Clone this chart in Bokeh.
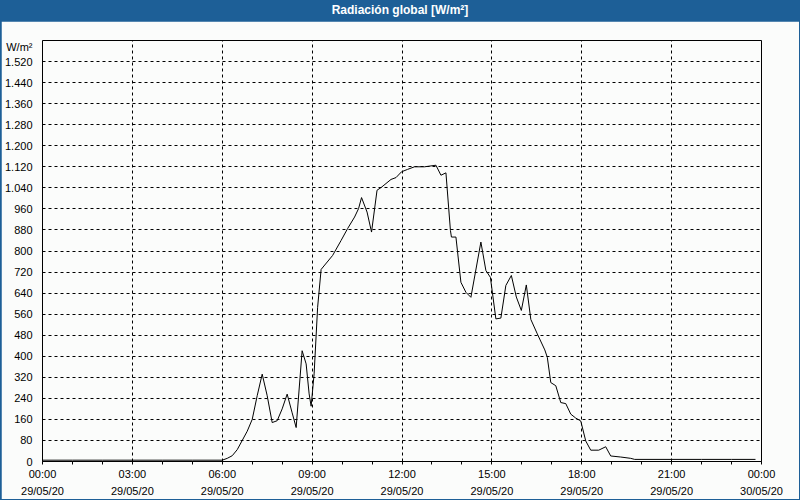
from bokeh.plotting import figure
from bokeh.models import Range1d, FixedTicker, Div
from bokeh.layouts import column
from bokeh.embed import file_html
from bokeh.resources import INLINE

TITLE = "Radiación global [W/m²]"
UNIT = "W/m²"

times = ["00:00", "01:00", "02:00", "03:00", "04:00", "05:00", "06:00", "06:10",
         "06:20", "06:30", "06:40", "06:50", "07:00", "07:10", "07:20", "07:30",
         "07:40", "07:50", "08:00", "08:10", "08:20", "08:28", "08:40", "08:48",
         "08:54", "08:58", "09:04", "09:11", "09:18", "09:41", "09:58", "10:11",
         "10:25", "10:33", "10:39", "10:50", "10:59", "11:10", "11:18", "11:38",
         "11:48", "11:59", "12:11", "12:25", "12:45", "13:08", "13:18", "13:28",
         "13:37", "13:39", "13:48", "13:58", "14:08", "14:18", "14:38", "14:48",
         "14:57", "15:08", "15:18", "15:28", "15:39", "15:49", "15:59", "16:09",
         "16:18", "16:31", "16:46", "16:51", "16:58", "17:08", "17:18", "17:28",
         "17:38", "17:48", "17:58", "18:08", "18:18", "18:34", "18:48", "18:58",
         "19:18", "19:38", "19:46", "21:00", "22:00", "23:00", "23:48"]
values = [5, 5, 5, 5, 5, 5, 5, 12,
          22, 45, 80, 115, 160, 250, 332, 250,
          148, 155, 200, 256, 185, 129, 421, 371,
          257, 210, 333, 586, 730, 783, 840, 885,
          929, 961, 1003, 948, 872, 1031, 1041, 1072,
          1079, 1101, 1110, 1120, 1120, 1126, 1088, 1097,
          878, 853, 853, 681, 643, 624, 834, 726,
          700, 542, 545, 669, 707, 625, 574, 671,
          540, 485, 424, 396, 300, 288, 224, 220,
          180, 165, 154, 78, 43, 43, 56, 21,
          17, 12, 8, 8, 8, 8, 8]

x_ticks = [0, 3, 6, 9, 12, 15, 18, 21, 24]
x_minor = [1, 2, 4, 5, 7, 8, 10, 11, 13, 14, 16, 17, 19, 20, 22, 23]
x_labels = ["00:00\n29/05/20", "03:00\n29/05/20", "06:00\n29/05/20", "09:00\n29/05/20",
            "12:00\n29/05/20", "15:00\n29/05/20", "18:00\n29/05/20", "21:00\n29/05/20",
            "00:00\n30/05/20"]
y_ticks = [0, 80, 160, 240, 320, 400, 480, 560, 640, 720, 800, 880, 960, 1040,
           1120, 1200, 1280, 1360, 1440, 1520]
y_labels = ["0", "80", "160", "240", "320", "400", "480", "560", "640", "720", "800",
            "880", "960", "1.040", "1.120", "1.200", "1.280", "1.360", "1.440", "1.520"]

BLUE = "#1d5f97"
BG = "#fbfcfb"
FONT = "Liberation Sans"
UNIT_POS = 1577  # where the unit caption sits on the y axis

hours = [int(t[:2]) + int(t[3:]) / 60 for t in times]

p = figure(width=798, height=478, x_range=Range1d(0, 24), y_range=Range1d(0, 1600),
           output_backend="svg", toolbar_location=None,
           min_border_left=40, min_border_right=38, min_border_top=19, min_border_bottom=38,
           background_fill_color=BG, border_fill_color=BG,
           outline_line_color="black", outline_line_width=1)
p.margin = (0, 1, 1, 1)

p.line(hours, values, line_color="black", line_width=1)

p.xaxis.ticker = FixedTicker(ticks=x_ticks, minor_ticks=x_minor)
p.xaxis.major_label_overrides = dict(zip(x_ticks, x_labels))
p.xaxis.axis_line_color = "black"
p.xaxis.major_tick_in = 0
p.xaxis.major_tick_out = 3
p.xaxis.minor_tick_in = 0
p.xaxis.minor_tick_out = 3
p.xaxis.major_label_standoff = 3
p.xaxis.major_label_text_font = FONT
p.xaxis.major_label_text_font_size = "11px"
p.xaxis.major_label_text_color = "black"
p.xaxis.major_label_text_line_height = 1.45

y_overrides = dict(zip(y_ticks, y_labels))
y_overrides[UNIT_POS] = UNIT
p.yaxis.ticker = FixedTicker(ticks=y_ticks + [UNIT_POS])
p.yaxis.major_label_overrides = y_overrides
p.yaxis.axis_line_color = None
p.yaxis.major_tick_line_color = None
p.yaxis.minor_tick_line_color = None
p.yaxis.major_label_standoff = 4
p.yaxis.major_label_text_font = FONT
p.yaxis.major_label_text_font_size = "11px"
p.yaxis.major_label_text_color = "black"
p.ygrid.ticker = FixedTicker(ticks=y_ticks)

for g in (p.xgrid, p.ygrid):
    g.grid_line_color = "black"
    g.grid_line_dash = "3 3"
    g.grid_line_width = 1

div = Div(text=(f'<div style="width:800px;height:21px;background:{BLUE};color:white;'
                f'font-family:\'{FONT}\';font-weight:bold;font-size:12px;'
                f'text-align:center;line-height:21px;">{TITLE}</div>'),
          width=800, height=21, margin=(0, 0, 0, 0))

layout = column(div, p, styles={"background-color": BLUE}, spacing=0)

open("out.html", "w").write(file_html(layout, INLINE))
